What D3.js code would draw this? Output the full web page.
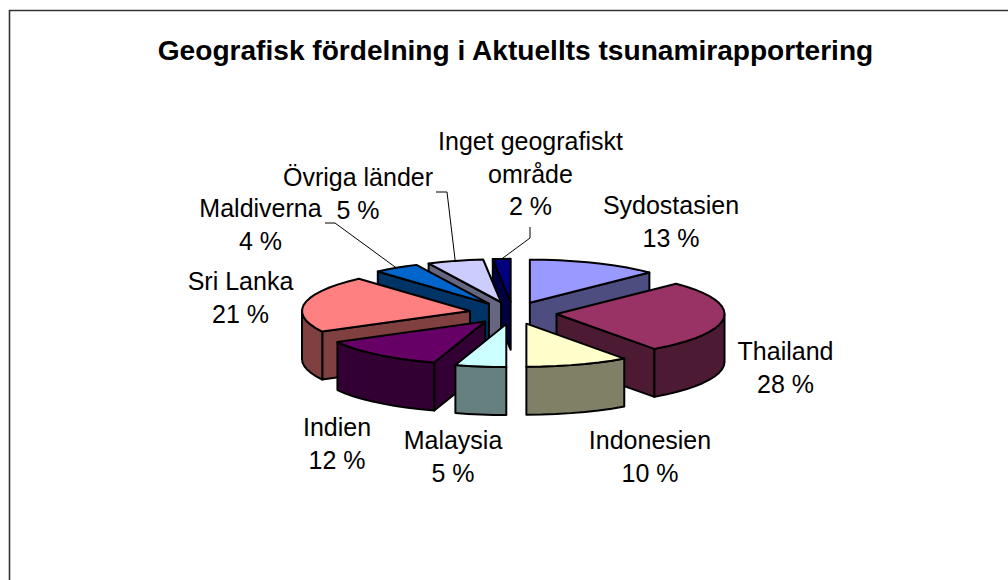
<!DOCTYPE html>
<html><head><meta charset="utf-8">
<script src="https://cdn.jsdelivr.net/npm/d3@7"></script>
<style>html,body{margin:0;padding:0;background:#fff}svg{display:block}text{font-family:"Liberation Sans",Arial,sans-serif;fill:#000}</style>
</head><body><svg id="c" width="1008" height="580"></svg>
<script>
const title = "Geografisk fördelning i Aktuellts tsunamirapportering";
const categories = ["Sydostasien","Thailand","Indonesien","Malaysia","Indien","Sri Lanka","Maldiverna","Övriga länder","Inget geografiskt område"];
const shares = [12.6,27.5,9.9,4.9,12.2,21.4,4.4,5.4,1.7];
const percentLabels = [13,28,10,5,12,21,4,5,2];
const topColors = ["#9999FF","#993366","#FFFFCC","#CCFFFF","#660066","#FF8080","#0066CC","#CCCCFF","#000080"];
const labelLines = [["Sydostasien"],["Thailand"],["Indonesien"],["Malaysia"],["Indien"],["Sri Lanka"],["Maldiverna"],["Övriga länder"],["Inget geografiskt","område"]];
const labelCenterX = [671,785.5,650,453,337,240.5,260.5,358,530.5];
const labelFirstBaseline = [214,360,449,449,436,290,217,186,150];
const paintOrder = [8,7,6,5,4,3,0,1,2];
const leaderKnees = {6:[[325,223],[335,223]],7:[[436,192],[447,192]],8:[[530,227],[530,238]]};

const W=1008,H=580,cx=513,cy=313,rx=168,ry=43,depth=48,explode=0.26,lineH=32.7,fs=25;
const svg=d3.select("#c");
svg.append("path").attr("d",d3.line()([[9.5,H],[9.5,10.5],[W,10.5]])).attr("fill","none").attr("stroke","#333").attr("stroke-width",1.6);
svg.append("text").attr("x",515.5).attr("y",60).attr("text-anchor","middle").attr("font-weight","bold").attr("font-size",28.1).text(title);

const pie=d3.pie().sort(null).value(d=>d);
const arcs=pie(shares);
const sx=d3.scaleLinear().domain([-1,1]).range([-rx,rx]);
const sy=d3.scaleLinear().domain([-1,1]).range([-ry,ry]);
const apex=a=>{const m=(a.startAngle+a.endAngle)/2;return [cx+explode*sx(Math.sin(m)),cy-explode*sy(Math.cos(m))];};
const rim=(ap,t)=>[ap[0]+sx(Math.sin(t)),ap[1]-sy(Math.cos(t))];
const down=p=>[p[0],p[1]+depth];
const line=d3.line();
const sample=(a0,a1)=>{const n=Math.max(2,Math.ceil((a1-a0)/0.09));return d3.range(n+1).map(i=>a0+(a1-a0)*i/n);};
const g=svg.append("g").attr("stroke","#000").attr("stroke-width",2).attr("stroke-linejoin","round");
paintOrder.forEach(i=>{
  const a=arcs[i],ap=apex(a),top=d3.rgb(topColors[i]);
  const wall=d3.rgb(top.r*.5,top.g*.5,top.b*.5).formatHex();
  const s0=rim(ap,a.startAngle),s1=rim(ap,a.endAngle);
  const face=p=>line([ap,p,down(p),down(ap)])+"Z";
  if(Math.sin(a.startAngle)<-0.01) g.append("path").attr("d",face(s0)).attr("fill",wall);
  if(Math.sin(a.endAngle)>0.01) g.append("path").attr("d",face(s1)).attr("fill",wall);
  const lo=Math.max(a.startAngle,Math.PI/2),hi=Math.min(a.endAngle,Math.PI*1.5);
  if(hi>lo){
    const pts=sample(lo,hi).map(t=>rim(ap,t));
    g.append("path").attr("d",line(pts.concat(pts.slice().reverse().map(down)))+"Z").attr("fill",wall);
  }
  g.append("path").attr("d",line([ap].concat(sample(a.startAngle,a.endAngle).map(t=>rim(ap,t))))+"Z").attr("fill",top.formatHex());
});
// leader lines
Object.keys(leaderKnees).forEach(k=>{
  const a=arcs[+k],e=rim(apex(a),(a.startAngle+a.endAngle)/2);
  svg.append("path").attr("d",line(leaderKnees[k].concat([e]))).attr("fill","none").attr("stroke","#000").attr("stroke-width",1);
});
// labels
categories.forEach((c,i)=>{
  const t=svg.append("text").attr("text-anchor","middle").attr("font-size",fs);
  labelLines[i].concat([percentLabels[i]+" %"]).forEach((s,j)=>{
    t.append("tspan").attr("x",labelCenterX[i]).attr("y",labelFirstBaseline[i]+j*lineH).text(s);
  });
});
</script></body></html>
